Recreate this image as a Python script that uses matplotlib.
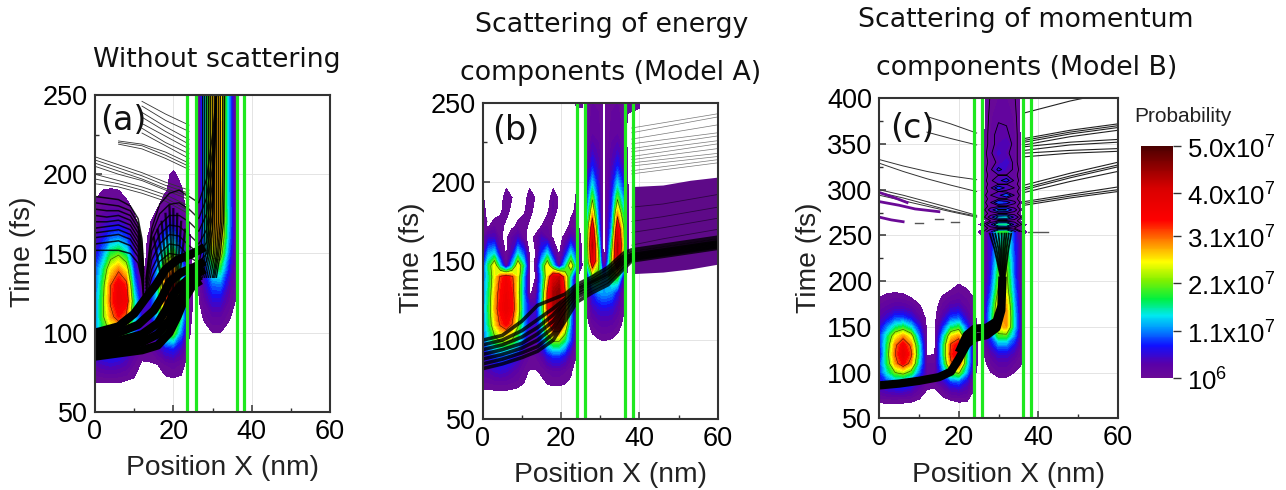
import matplotlib
matplotlib.use("Agg")
import matplotlib.pyplot as plt
import numpy as np
from matplotlib.cm import ScalarMappable
from matplotlib.colors import LinearSegmentedColormap, Normalize
from matplotlib.ticker import MultipleLocator

plt.rcParams["font.family"] = ["Liberation Sans", "DejaVu Sans"]
plt.rcParams["mathtext.fontset"] = "custom"
plt.rcParams["mathtext.rm"] = "Liberation Sans"

W, H = 1286, 490

# probability tables, units of 1e7, read off the colours of the picture
# panel (a)
a_left_x = [0, 2, 4, 6, 8, 10, 12, 14, 16, 18, 20, 22, 24, 26]
a_left_t = [60, 70, 80, 90, 100, 110, 120, 130, 140, 150, 160, 170, 180, 190, 200, 210]
a_left_p = [
    [0, 0, 0, 0, 0, 0, 0, 0, 0, 0, 0, 0, 0, 0],
    [.11, .12, .12, .12, .1, .08, .04, .03, .04, .06, .07, .06, .02, 0],
    [.4, .5, .55, .5, .4, .2, .07, .08, .1, .2, .25, .18, .0, 0],
    [.7, .9, 1.0, .95, .7, .4, .2, .2, .4, .7, .8, .5, .07, 0],
    [1.0, 1.7, 2.2, 2.3, 1.9, 1.0, .4, .4, .9, 1.9, 2.1, 1.1, .12, 0],
    [1.0, 2.0, 2.9, 3.4, 3.0, 1.5, .6, .5, 1.4, 2.9, 3.3, 1.6, .15, 0],
    [1.0, 2.0, 3.2, 3.8, 3.6, 1.6, .4, .6, 1.5, 3.2, 3.6, 1.6, .2, 0],
    [.9, 1.9, 3.1, 3.7, 3.3, 1.2, .12, .35, 1.5, 3.2, 3.6, 1.6, .2, 0],
    [.9, 1.6, 2.6, 3.0, 2.5, .8, .05, .2, 1.2, 2.6, 3.0, 1.3, .15, 0],
    [.6, 1.1, 1.8, 2.0, 1.6, .5, .03, .15, .9, 1.7, 2.0, .9, .14, 0],
    [.4, .7, 1.0, 1.1, .9, .3, .06, .12, .5, 1.0, 1.2, .5, .12, 0],
    [.25, .4, .55, .55, .4, .15, 0, .08, .25, .5, .6, .3, .1, 0],
    [.13, .2, .25, .25, .15, .05, 0, .03, .08, .2, .3, .17, .02, 0],
    [.05, .1, .11, .1, .04, 0, 0, 0, .02, .08, .18, .12, 0, 0],
    [0, 0, 0, 0, 0, 0, 0, 0, 0, .06, .13, .05, 0, 0],
    [0, 0, 0, 0, 0, 0, 0, 0, 0, 0, 0, 0, 0, 0],
]
a_right_x = [25, 26.5, 28, 30, 32, 34, 36, 37]
a_right_t = [90, 100, 110, 120, 130, 140, 150, 160, 170, 200, 250]
a_right_p = [
    [0, 0, 0, 0, 0, 0, 0, 0],
    [0, 0, 0, .1, .1, 0, 0, 0],
    [0, 0, .15, .3, .3, .15, 0, 0],
    [0, .08, .3, .6, .6, .3, .08, 0],
    [0, .12, .5, 1.0, 1.05, .5, .12, 0],
    [0, .15, .7, 1.6, 1.7, .8, .12, 0],
    [0, .15, 1.0, 2.3, 2.4, 1.1, .1, 0],
    [0, .15, 1.2, 2.7, 2.8, 1.3, .09, 0],
    [0, .15, 1.3, 2.8, 2.9, 1.4, .08, 0],
    [0, .15, 1.3, 2.8, 2.9, 1.3, .07, 0],
    [0, .15, 1.3, 2.7, 2.8, 1.3, .07, 0],
]

# panel (b)
b_left_x = [0, 1.5, 3, 4.5, 6, 7.5, 9, 10.5, 12, 13.5, 15, 16.5, 18, 19.5, 21, 22.5, 24, 25.5]
b_left_t = [60, 70, 80, 90, 100, 110, 120, 130, 140, 147, 155, 165, 172, 182, 190, 197, 205, 240, 250]
b_left_p = [
    [0] * 18,
    [.11, .11, .12, .12, .12, .11, .1, .08, .05, .03, .05, .07, .08, .08, .07, .06, 0, 0],
    [.35, .4, .5, .55, .5, .4, .3, .15, .08, .08, .12, .2, .25, .25, .2, .12, 0, 0],
    [.6, .75, .9, 1.0, .95, .8, .6, .35, .2, .2, .35, .65, .85, .85, .65, .35, .08, 0],
    [1.0, 1.4, 1.9, 2.2, 2.3, 2.1, 1.6, .9, .4, .4, .9, 1.7, 2.2, 2.2, 1.7, .9, .12, 0],
    [1.0, 1.7, 2.6, 3.2, 3.5, 3.1, 2.2, 1.2, .6, .5, 1.3, 2.8, 3.8, 3.9, 2.8, 1.1, .12, 0],
    [1.0, 1.8, 2.8, 3.5, 3.8, 3.5, 2.5, 1.2, .6, .5, 1.5, 3.2, 4.4, 4.6, 3.2, 1.2, .12, 0],
    [1.0, 1.7, 2.7, 3.4, 3.7, 3.4, 2.4, 1.1, .05, .2, 1.4, 3.2, 4.4, 4.6, 3.2, 1.1, .12, 0],
    [.9, 1.6, 2.5, 3.2, 3.6, 3.2, 2.5, 1.2, .03, .1, 1.2, 2.6, 4.0, 4.2, 2.8, 1.4, .12, 0],
    [.7, 1.8, 2.6, 1.3, .2, 1.3, 2.6, 1.6, .03, .12, 1.5, 2.6, 1.4, .3, 1.4, 2.6, 1.2, 0],
    [.35, 1.2, 1.4, .4, .05, .5, 1.4, .9, .03, .1, .8, 1.4, .5, .05, .6, 1.4, .7, 0],
    [.2, .5, .5, .14, .03, .3, .5, .15, .03, .14, .5, .3, .05, .03, .15, .5, .3, 0],
    [.15, .08, .2, .18, .03, .04, .15, .2, .03, 0, .1, .2, .05, 0, 0, .15, .15, 0],
    [.14, .05, 0, .06, .2, .02, 0, .06, .2, 0, 0, .06, .22, .03, 0, .05, .14, 0],
    [.12, 0, 0, 0, .2, .1, 0, 0, .2, .08, 0, 0, .2, .07, 0, 0, .12, 0],
    [.08, 0, 0, 0, .08, .06, 0, 0, .08, .05, 0, 0, .08, .03, 0, 0, .1, 0],
    [0] * 18,
    [0] * 18,
    [0, 0, 0, 0, 0, 0, 0, 0, 0, 0, 0, 0, 0, 0, 0, .02, .14, .14],
]
b_right_x = [25.2, 26, 27, 28, 29.5, 30.5, 31, 31.5, 33, 34.4, 36, 37, 38, 40]
b_right_t = [90, 100, 110, 120, 130, 140, 150, 160, 170, 180, 190, 200, 210, 220, 230, 250]
b_right_p = [
    [0] * 14,
    [0, 0, 0, .03, .08, .1, .1, .1, .08, .03, 0, 0, 0, 0],
    [0, 0, .08, .2, .3, .33, .33, .33, .3, .2, .05, 0, 0, 0],
    [0, .02, .18, .45, .6, .65, .65, .65, .6, .4, .12, 0, 0, 0],
    [0, .06, .35, .8, 1.1, 1.2, 1.2, 1.2, 1.1, .7, .15, 0, 0, 0],
    [0, .1, .9, 2.0, 1.9, 1.3, 1.2, 1.3, 1.9, 2.0, .5, 0, 0, 0],
    [0, .12, 2.2, 4.0, 2.4, .4, .1, .4, 2.4, 4.2, 2.0, .1, 0, 0],
    [0, .12, 2.6, 4.4, 1.9, .12, .03, .12, 1.9, 4.4, 2.4, .12, 0, 0],
    [0, .12, 2.3, 3.9, 1.3, .12, .03, .12, 1.3, 3.9, 2.2, .12, 0, 0],
    [0, .12, 1.6, 2.8, 1.0, .12, .03, .12, 1.0, 2.9, 1.6, .12, 0, 0],
    [0, .12, 1.1, 2.0, .8, .12, .02, .12, .8, 2.0, 1.1, .12, 0, 0],
    [0, .11, .7, 1.3, .6, .12, .02, .12, .6, 1.3, .7, .11, 0, 0],
    [0, .11, .4, .8, .45, .12, .02, .12, .45, .8, .4, .1, 0, 0],
    [0, .1, .25, .5, .35, .12, .02, .12, .35, .5, .25, .08, 0, 0],
    [0, .08, .18, .3, .25, .12, .02, .12, .25, .3, .18, .06, 0, 0],
    [0, .06, .14, .2, .18, .12, .02, .12, .18, .2, .14, .12, .14, .12],
]

# panel (c)
c_left_x = [0, 2, 4, 6, 8, 10, 12, 14, 16, 18, 20, 22, 24, 26]
c_left_t = [60, 70, 80, 90, 100, 110, 120, 130, 140, 150, 160, 170, 180, 190, 200, 210]
c_left_p = [
    [0] * 14,
    [.14, .16, .16, .15, .13, .09, .04, .03, .05, .1, .13, .12, 0, 0],
    [.4, .5, .55, .55, .45, .25, .08, .06, .2, .4, .45, .35, .06, 0],
    [.6, .9, 1.1, 1.1, .9, .5, .2, .2, .5, .9, 1.0, .6, .1, 0],
    [.75, 1.5, 2.1, 2.3, 1.9, 1.0, .3, .3, 1.0, 2.0, 2.2, 1.2, .12, 0],
    [.8, 1.8, 2.9, 3.5, 2.9, 1.4, .2, .2, 1.4, 3.0, 3.4, 1.6, .15, 0],
    [.5, 1.9, 3.1, 3.8, 3.2, 1.6, .08, .1, 1.6, 3.3, 3.7, 1.7, .15, 0],
    [.7, 1.8, 3.0, 3.6, 3.0, 1.5, .05, .08, 1.6, 3.2, 3.6, 1.6, .15, 0],
    [.8, 1.6, 2.5, 2.9, 2.4, 1.1, .04, .06, 1.3, 2.6, 2.9, 1.3, .14, 0],
    [.6, 1.1, 1.6, 1.8, 1.4, .7, .03, .05, .8, 1.6, 1.8, .9, .13, 0],
    [.4, .6, .9, .9, .7, .35, .02, .04, .45, .9, 1.0, .5, .12, 0],
    [.25, .35, .45, .45, .35, .15, 0, .03, .25, .5, .55, .3, .11, 0],
    [.12, .18, .22, .2, .12, .05, 0, 0, .15, .25, .3, .2, .1, 0],
    [.02, .05, .06, .04, 0, 0, 0, 0, .03, .1, .16, .12, 0, 0],
    [0, 0, 0, 0, 0, 0, 0, 0, 0, 0, .07, 0, 0, 0],
    [0] * 14,
]
c_right_x = [25, 26, 28, 30, 32, 34, 36, 37]
c_right_t = [90, 100, 110, 120, 130, 140, 150, 160, 170, 180, 190, 200, 210, 220, 230, 240, 250,
             254, 258, 262, 266, 270, 274, 278, 282, 286, 290, 294, 298, 302, 306, 310, 316,
             322, 330, 340, 350, 360, 380, 400]
c_right_p = [
    [0] * 8,
    [0, 0, .09, .2, .2, .1, .02, 0],
    [0, 0, .2, .35, .35, .2, .1, 0],
    [0, .04, .35, .6, .6, .4, .13, 0],
    [0, .08, .6, 1.1, 1.1, .7, .14, 0],
    [0, .1, .9, 1.9, 1.9, 1.1, .15, 0],
    [0, .12, 1.2, 2.7, 2.9, 1.4, .15, 0],
    [0, .12, 1.4, 2.8, 3.0, 1.4, .14, 0],
    [0, .12, 1.3, 2.7, 2.9, 1.3, .14, 0],
    [0, .11, 1.1, 2.5, 2.7, 1.2, .13, 0],
    [0, .1, .9, 2.2, 2.4, 1.1, .12, 0],
    [0, .1, .8, 2.0, 2.3, 1.0, .12, 0],
    [0, .1, .7, 1.9, 2.2, .9, .12, 0],
    [0, .1, .65, 1.7, 2.1, .9, .12, 0],
    [0, .1, .6, 1.6, 1.9, .85, .12, 0],
    [0, .1, .6, 1.5, 1.8, .85, .12, 0],
    [0, .1, .6, 1.4, 1.6, .8, .12, 0],
    [.12, .12, .5, 1.8, 1.9, .7, .12, .12],
    [0, .06, .2, .15, .2, .15, .08, 0],
    [.1, .12, .5, 1.6, 1.7, .5, .12, .1],
    [0, .06, .15, .2, .15, .2, .06, 0],
    [0, .08, .4, 1.3, 1.4, .5, .1, 0],
    [0, .06, .2, .2, .2, .2, .06, 0],
    [0, .06, .4, 1.1, 1.0, .4, .06, 0],
    [0, .06, .2, .2, .25, .2, .06, 0],
    [0, .06, .3, 1.0, .8, .35, .06, 0],
    [0, .06, .2, .25, .2, .2, .06, 0],
    [0, .06, .3, .5, 1.0, .3, .06, 0],
    [0, .06, .2, .3, .2, .2, .06, 0],
    [0, .06, .25, .9, .5, .3, .06, 0],
    [0, .06, .2, .3, .3, .2, .06, 0],
    [0, .06, .25, .5, .8, .25, .06, 0],
    [0, .06, .2, .3, .3, .2, .06, 0],
    [0, .06, .25, .7, .45, .25, .06, 0],
    [0, .06, .2, .35, .6, .2, .06, 0],
    [0, .06, .25, .55, .35, .2, .06, 0],
    [0, .06, .2, .4, .5, .2, .06, 0],
    [0, .06, .2, .4, .35, .2, .06, 0],
    [0, .06, .18, .25, .25, .18, .06, 0],
    [0, .06, .16, .2, .2, .16, .06, 0],
]

# trajectories, each row one line
a_band_x = [
    [0, 6, 12, 16, 19, 21, 23, 25, 27],
    [0, 6, 12, 16, 19, 21, 23, 25, 27],
    [0, 6, 12, 16, 18, 20, 22, 25, 28],
    [0, 6, 11, 15, 17, 19, 22, 25, 28],
    [0, 6, 10, 13, 15.5, 18, 21, 25, 28],
]
a_band_t = [
    [85, 87, 89, 92, 100, 110, 122, 130, 133],
    [89, 91, 94, 99, 108, 118, 126, 133, 136],
    [93, 95, 99, 106, 114, 124, 130, 136, 140],
    [97, 100, 105, 114, 122, 132, 138, 141, 145],
    [100, 104, 112, 122, 130, 140, 146, 150, 154],
]
a_col_t = [135, 150, 170, 200, 250]
a_col_x = [
    [26, 27, 27.5, 27.5, 27.5], [26.5, 27.8, 28, 28, 28], [27, 28.3, 28.5, 28.5, 28.5],
    [27.5, 28.8, 29, 29, 29], [28, 29.3, 29.5, 29.5, 29.5], [28.5, 29.7, 30, 30, 30],
    [29, 30.2, 30.5, 30.5, 30.5], [29.5, 30.6, 31, 31, 31], [30, 31, 31.5, 31.5, 31.5],
    [30.3, 31.3, 32, 32, 32], [30.6, 31.6, 32.4, 32.6, 32.6], [31, 32, 32.8, 33, 33.1],
]
a_fan_x = [12.4, 12, 11, 9, 6, 3, 0]
a_fan_t = [
    [122, 133, 144, 150, 152, 152, 152],
    [124, 135, 148, 155, 158, 157, 156],
    [126, 138, 151, 159, 162, 161, 160],
    [128, 141, 154, 162, 165, 164, 163],
    [130, 144, 157, 165, 168, 167, 166],
    [132, 147, 160, 168, 171, 170, 170],
    [134, 150, 163, 171, 174, 173, 174],
    [136, 153, 166, 174, 177, 177, 178],
    [138, 156, 169, 177, 180, 181, 182],
    [140, 159, 172, 180, 184, 185, 186],
]
a_arc_x = [13, 14.5, 16.5, 19, 21.5, 24, 26.5, 28.5, 30, 31]
a_arc_t = [
    [122, 135, 145, 150, 149, 143, 140, 145, 165, 250],
    [124, 140, 150, 156, 155, 148, 144, 150, 175, 250],
    [126, 146, 156, 162, 161, 155, 150, 157, 185, 250],
    [128, 152, 162, 168, 167, 162, 156, 165, 195, 250],
    [130, 158, 168, 174, 174, 170, 164, 175, 205, 250],
    [132, 162, 175, 181, 182, 178, 172, 185, 215, 250],
    [134, 166, 181, 188, 190, 186, 182, 197, 225, 250],
]
a_drop_x = [
    [15, 16.5, 18, 19], [16, 17.5, 19, 19.8], [17, 18, 19, 19.5], [18, 18.7, 19.5, 20],
    [19, 19.5, 20, 20], [20, 20, 20, 20.2], [21, 20.8, 20.5, 20.3], [22, 21.4, 20.8, 20.4],
    [23, 22, 21, 20.6],
]
a_drop_t = [
    [160, 140, 120, 105], [165, 142, 120, 105], [170, 145, 122, 105], [175, 148, 124, 105],
    [180, 150, 125, 105], [178, 150, 125, 105], [175, 150, 125, 105], [170, 148, 125, 105],
    [165, 145, 125, 105],
]
a_thin_x = [0, 6, 12, 18, 24]
a_thin_t = [
    [np.nan, np.nan, 246, 238, 231], [np.nan, np.nan, 243, 234, 227],
    [np.nan, np.nan, 239, 230, 222], [np.nan, np.nan, 236, 227, 219],
    [np.nan, np.nan, 232, 224, 216], [np.nan, np.nan, 229, 220, 213],
    [np.nan, np.nan, 226, 218, 210], [np.nan, 221, 219, 214, 207],
    [np.nan, 220, 218, 212, 205], [np.nan, 219, 216, 210, 203],
    [211, 206, 201, 195, 190], [209, 204, 199, 193, 188],
    [207, 202, 197, 191, 186], [205, 200, 196, 190, 184],
    [200, 196, 192, 187, 180], [197, 194, 190, 185, 177],
    [194, 192, 188, 183, 175],
]

b_band_x = [0, 5, 10, 14, 18, 21, 24, 28, 32, 36, 38, 60]
b_band_t = [
    [82, 85, 89, 93, 100, 112, 124, 130, 135, 145, 150, 158],
    [85, 88, 92, 96, 104, 116, 127, 132, 137, 147, 151, 159],
    [88, 91, 95, 100, 108, 119, 129, 134, 139, 149, 152, 160],
    [91, 94, 98, 104, 112, 122, 130, 136, 141, 150, 153, 161],
    [94, 97, 102, 108, 116, 124, 132, 137, 142, 152, 154, 162],
    [97, 100, 106, 113, 120, 126, 133, 138, 144, 153, 155, 163],
    [100, 103, 112, 122, 126, 129, 135, 140, 146, 155, 157, 165],
]
b_over_x = [38, 46, 53, 60]
b_over_low = [142, 143, 145, 148]
b_over_high = [197, 198, 201, 203]
b_over_lines = [[160, 164, 167, 170], [168, 171, 174, 177], [175, 178, 181, 184], [184, 186, 189, 192]]
b_thin_x = [38, 60]
b_thin_t = [[205, 212], [207, 214], [210, 216], [212, 218], [214, 221], [216, 224],
            [219, 226], [221, 229], [224, 231], [227, 236], [231, 241], [234, 243]]

c_band_x = [0, 5, 10, 15, 18, 20, 22, 24, 27, 29.5, 30.7, 31]
c_band_t = [86, 88, 91, 95, 101, 115, 131, 138, 141, 149, 168, 205]
c_band2_x = [20, 22, 24, 27, 29.5, 30.7]
c_band2_t = [122, 141, 148, 149, 156, 172]
c_fan_x = [[31, 30.5, 29, 27.8], [31, 30.6, 29.5, 28.5], [31, 30.7, 30, 29.2],
           [31, 30.8, 30.4, 30], [31, 31, 30.8, 30.8], [31, 31.1, 31.2, 31.5],
           [31, 31.3, 31.6, 32], [31, 31.4, 32, 32.6], [31, 31.6, 32.5, 33.2]]
c_fan_t = [185, 205, 235, 252]
c_left_thin_x = [0, 6, 12, 18, 24.5]
c_left_thin_t = [
    [333, 326, 320, 315, 311], [329, 320, 312, 305, 298], [300, 294, 287, 280, 272],
    [297, 291, 284, 277, 271], [294, 288, 282, 276, 270],
    [np.nan, np.nan, 380, 372, 362], [np.nan, np.nan, 363, 356, 349],
]
c_right_thin_x = [36.5, 48, 60]
c_right_thin_t = [
    [283, 291, 298], [285, 293, 300], [287, 295, 303], [297, 309, 320],
    [300, 313, 325], [302, 315, 327], [305, 318, 330], [336, 340, 342],
    [340, 343, 345], [343, 349, 352], [347, 352, 355], [349, 358, 365],
    [352, 361, 368], [354, 363, 370], [356, 365, 372], [384, 397, 408],
]
c_streak_x = [[0, 4, 7], [0, 5, 9, 15], [0, 3, 6]]
c_streak_t = [[297, 291, 286], [287, 283, 279, 276], [270, 267, 265]]
c_dash_x = [[9, 11], [14, 16], [18, 20], [37.5, 42.5]]
c_dash_t = [[264, 264], [268, 268], [265, 265], [254, 254]]

green_x_a = [23.6, 25.7, 36.2, 38]
green_x_b = [24, 26, 36.3, 38.3]
green_x_c = [23.8, 25.9, 36.2, 38.2]

cbar_ticks = [0.1, 1.1, 2.1, 3.1, 4.0, 5.0]
cbar_labels = ["10$^{6}$", "1.1x10$^{7}$", "2.1x10$^{7}$", "3.1x10$^{7}$", "4.0x10$^{7}$", "5.0x10$^{7}$"]

cmap = LinearSegmentedColormap.from_list("prob", [
    (0.0, "#6a0a96"), (0.06, "#5a00a8"), (0.14, "#1010ff"), (0.21, "#0090ff"), (0.27, "#00e8f0"),
    (0.34, "#00f040"), (0.42, "#80f000"), (0.50, "#ffff00"), (0.58, "#ff9000"), (0.68, "#ff0000"),
    (0.82, "#d80000"), (1.0, "#4a0000"),
])
levels = np.linspace(0.1, 5.0, 50)


def px_rect(left, right, top, bottom):
    return [left / W, 1 - bottom / H, (right - left) / W, (bottom - top) / H]


def px_text(x, y, s, **kw):
    fig.text(x / W, 1 - y / H, s, ha="center", va="center", **kw)


def draw_field(ax, x, t, p):
    ax.contourf(x, t, np.array(p, dtype=float), levels=levels, cmap=cmap, extend="max", zorder=2)
    ax.contour(x, t, np.array(p, dtype=float), levels=[2.1, 3.1], colors="k", linewidths=0.4, alpha=0.7, zorder=3)


def setup(ax, ymax, ystep, green):
    ax.set_xlim(0, 60)
    ax.set_ylim(50, ymax)
    ax.set_xticks([0, 20, 40, 60])
    ax.set_yticks(np.arange(50, ymax + 1, ystep))
    ax.xaxis.set_minor_locator(MultipleLocator(10))
    ax.yaxis.set_minor_locator(MultipleLocator(ystep / 2))
    ax.tick_params(which="major", direction="in", length=5, width=1.1, color="#333333", labelsize=19.5, pad=5)
    ax.tick_params(which="minor", direction="in", length=3, width=1, color="#333333")
    ax.grid(True, which="major", color="#e4e4e4", lw=0.7, zorder=1)
    ax.set_axisbelow(True)
    for s in ax.spines.values():
        s.set_linewidth(1.5)
        s.set_color("#333333")
        s.set_zorder(8)
    for g in green:
        ax.axvline(g, color="#1fe81f", lw=2.3, zorder=7)


fig = plt.figure(figsize=(W / 100, H / 100), dpi=100)

# (a)
ax_a = fig.add_axes(px_rect(95, 330, 95, 412))
setup(ax_a, 250, 50, green_x_a)
draw_field(ax_a, a_left_x, a_left_t, a_left_p)
draw_field(ax_a, a_right_x, a_right_t, a_right_p)
for tv in a_thin_t:
    ax_a.plot(a_thin_x, tv, color="#333333", lw=0.6, zorder=4)
for xv, tv in zip(a_drop_x, a_drop_t):
    ax_a.plot(xv, tv, color="k", lw=1.6, alpha=0.8, zorder=4)
for tv in a_fan_t:
    ax_a.plot(a_fan_x, tv, color="k", lw=1.1, alpha=0.85, zorder=4)
for tv in a_arc_t:
    ax_a.plot(a_arc_x, tv, color="k", lw=1.0, alpha=0.85, zorder=4)
for xv in a_col_x:
    ax_a.plot(xv, a_col_t, color="k", lw=1.0, alpha=0.9, zorder=4)
for xv, tv in zip(a_band_x, a_band_t):
    ax_a.plot(xv, tv, color="k", lw=6, solid_capstyle="butt", zorder=5)

# (b)
ax_b = fig.add_axes(px_rect(482.7, 717.7, 102.7, 419.3))
setup(ax_b, 250, 50, green_x_b)
draw_field(ax_b, b_left_x, b_left_t, b_left_p)
draw_field(ax_b, b_right_x, b_right_t, b_right_p)
ax_b.fill_between(b_over_x, b_over_low, b_over_high, color="#5e0a88", lw=0, zorder=3)
for tv in b_over_lines:
    ax_b.plot(b_over_x, tv, color="k", lw=0.6, alpha=0.5, zorder=4)
for tv in b_thin_t:
    ax_b.plot(b_thin_x, tv, color="#777777", lw=0.5, zorder=4)
for tv in b_band_t:
    ax_b.plot(b_band_x, tv, color="k", lw=2.6, alpha=0.8, zorder=5)

# (c)
ax_c = fig.add_axes(px_rect(879.3, 1117.7, 98.3, 418.3))
setup(ax_c, 400, 50, green_x_c)
draw_field(ax_c, c_left_x, c_left_t, c_left_p)
draw_field(ax_c, c_right_x, c_right_t, c_right_p)
# the ripple part above 250 fs has dark outlines on every band
ripple = np.array(c_right_t) >= 254
ax_c.contour(c_right_x, np.array(c_right_t)[ripple], np.array(c_right_p)[ripple], levels=[0.15, 0.3, 0.6, 1.0],
             colors="k", linewidths=0.6, zorder=3)
for tv in c_left_thin_t:
    ax_c.plot(c_left_thin_x, tv, color="#333333", lw=0.7, zorder=4)
for tv in c_right_thin_t:
    ax_c.plot(c_right_thin_x, tv, color="#222222", lw=0.8, zorder=4)
for xv, tv in zip(c_streak_x, c_streak_t):
    ax_c.plot(xv, tv, color="#6a0a96", lw=2, zorder=4)
for xv, tv in zip(c_dash_x, c_dash_t):
    ax_c.plot(xv, tv, color="#555555", lw=1, zorder=4)
ax_c.plot(c_band_x, c_band_t, color="k", lw=6, solid_capstyle="butt", zorder=5)
ax_c.plot(c_band2_x, c_band2_t, color="k", lw=6, solid_capstyle="butt", zorder=5)
for xv in c_fan_x:
    ax_c.plot(xv, c_fan_t, color="k", lw=1.3, alpha=0.9, zorder=5)

# colour bar
cax = fig.add_axes(px_rect(1140.7, 1173.3, 146, 378.3))
cb = fig.colorbar(ScalarMappable(Normalize(0.1, 5.0), cmap), cax=cax)
cb.set_ticks(cbar_ticks)
cb.set_ticklabels(cbar_labels)
cb.outline.set_visible(False)
cax.tick_params(length=6, width=1, color="#333333", labelsize=18.5, pad=4)

# text
px_text(217, 60, "Without scattering", family="DejaVu Sans", fontsize=19.3, color="#111111")
px_text(612, 25, "Scattering of energy", family="DejaVu Sans", fontsize=19.3, color="#111111")
px_text(611, 73, "components (Model A)", family="DejaVu Sans", fontsize=19.3, color="#111111")
px_text(1026, 20, "Scattering of momentum", family="DejaVu Sans", fontsize=19.3, color="#111111")
px_text(1027, 68, "components (Model B)", family="DejaVu Sans", fontsize=19.3, color="#111111")
px_text(123, 120, "(a)", family="DejaVu Sans", fontsize=24, color="#111111")
px_text(516, 130, "(b)", family="DejaVu Sans", fontsize=24, color="#111111")
px_text(912, 128, "(c)", family="DejaVu Sans", fontsize=24, color="#111111")
px_text(223, 468, "Position X (nm)", fontsize=20.3, color="#222222")
px_text(611, 475, "Position X (nm)", fontsize=20.3, color="#222222")
px_text(1009, 475, "Position X (nm)", fontsize=20.3, color="#222222")
px_text(23, 252, "Time (fs)", fontsize=20.3, rotation=90, color="#222222")
px_text(412, 258, "Time (fs)", fontsize=20.3, rotation=90, color="#222222")
px_text(809, 258, "Time (fs)", fontsize=20.3, rotation=90, color="#222222")
px_text(1183, 117, "Probability", fontsize=15, color="#222222")

fig.savefig("out.png", dpi=100)
